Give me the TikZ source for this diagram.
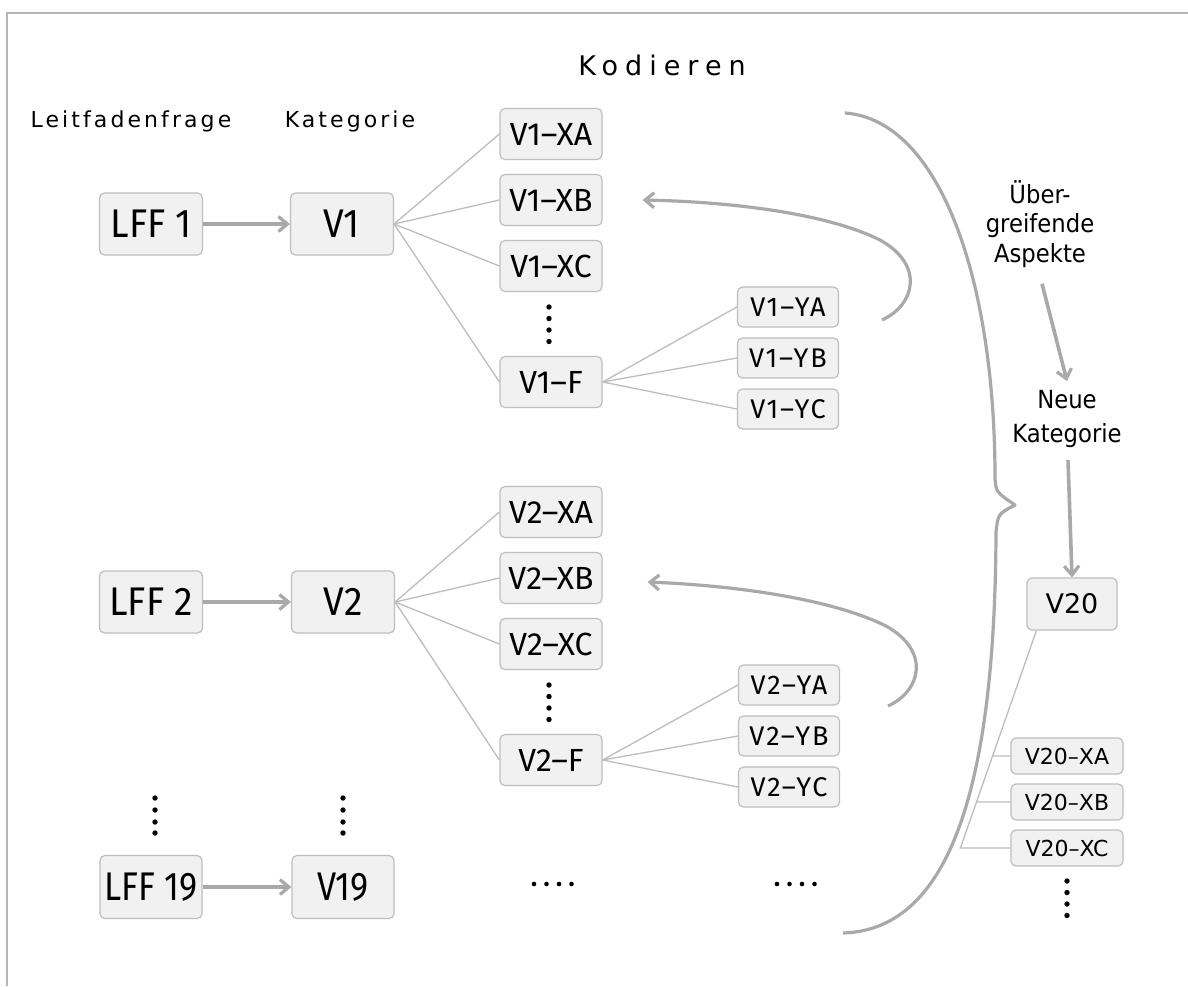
\documentclass[tikz,border=0pt]{standalone}
\usepackage{fontspec}
\setmainfont{DejaVu Sans}
\newfontfamily\boxfont[FakeStretch=0.93]{Fira Sans}
\newfontfamily\subfont{Fira Sans}
\newfontfamily\leaffont[LetterSpace=7]{Fira Sans}
\newfontfamily\narrowfont[FakeStretch=0.86]{Fira Sans}
\newfontfamily\headfont[LetterSpace=26]{DejaVu Sans}
\newfontfamily\colfont[LetterSpace=14]{DejaVu Sans}
\newfontfamily\sidefont[FakeStretch=0.91]{DejaVu Sans}
\usetikzlibrary{arrows.meta,calc}

\definecolor{boxfill}{HTML}{F1F1F1}
\definecolor{boxline}{HTML}{BEBEBE}
\definecolor{linkgray}{HTML}{BDBDBD}
\definecolor{arrowgray}{HTML}{A9A9A9}
\definecolor{framegray}{HTML}{B4B4B4}

\tikzset{
  box/.style={draw=boxline, fill=boxfill, rounded corners=5pt, line width=1.2pt, inner sep=0pt, text=black},
  bigbox/.style={box, minimum width=103pt, minimum height=62pt, font=\boxfont\fontsize{40}{42}\selectfont},
  narrowbox/.style={box, minimum width=102pt, minimum height=63pt, font=\narrowfont\fontsize{40}{42}\selectfont},
  xbox/.style={box, minimum width=102pt, minimum height=51pt, font=\subfont\fontsize{32}{34}\selectfont},
  ybox/.style={box, minimum width=101pt, minimum height=40pt, font=\leaffont\fontsize{27}{29}\selectfont},
  vbox/.style={box, minimum width=90pt, minimum height=52pt, font=\fontsize{27}{29}\selectfont},
  vxbox/.style={box, minimum width=112pt, minimum height=36pt, font=\fontsize{22}{24}\selectfont},
  collabel/.style={inner sep=0pt, text=black, font=\colfont\fontsize{22}{25}\selectfont},
  sidelabel/.style={inner sep=0pt, text=black, align=center},
  link/.style={draw=linkgray, line width=1.3pt},
  garrow/.style={draw=arrowgray, line width=3.6pt, -{Straight Barb[length=9pt,width=15pt,line width=3.2pt]}},
  curve/.style={draw=arrowgray, line width=3.2pt},
  dot/.style={circle, fill=black, inner sep=0pt, minimum size=5.4pt},
}

\begin{document}
\begin{tikzpicture}[x=1pt,y=-1pt]
\useasboundingbox (0,0) rectangle (1188,986);
\fill[white] (0,0) rectangle (1188,986);

% frame edges
\draw[framegray, line width=2pt] (7,986) -- (7,13) -- (1188,13);

% headings
\node[inner sep=0pt, font=\headfont\fontsize{27}{30}\selectfont] (kod) at (662,65) {Kodieren};
\node[collabel] (lff) at (131,121) {Leitfadenfrage};
\node[collabel] (kat) at (350,121) {Kategorie};

% first block
\node[bigbox] (lff1) at (151,224) {LFF 1};
\node[bigbox] (v1) at (342,224) {V1};
\node[xbox] (v1xa) at (551,134) {V1–XA};
\node[xbox] (v1xb) at (551,200) {V1–XB};
\node[xbox] (v1xc) at (551,266) {V1–XC};
\node[xbox] (v1f) at (551,382) {V1–F};
\node[ybox] (v1ya) at (788,307) {V1–YA};
\node[ybox] (v1yb) at (788,358) {V1–YB};
\node[ybox] (v1yc) at (788,409) {V1–YC};
\foreach \y [count=\i] in {307,318.5,330,341.5} \node[dot] (d1\i) at (549,\y) {};

\draw[garrow] (lff1) -- (v1);
\foreach \n in {v1xa,v1xb,v1xc,v1f} \draw[link] (v1.east) -- (\n.west);
\foreach \n in {v1ya,v1yb,v1yc} \draw[link] (v1f.east) -- (\n.west);

% second block
\node[bigbox] (lff2) at (151,602) {LFF 2};
\node[bigbox] (v2) at (343,602) {V2};
\node[xbox] (v2xa) at (551,512) {V2–XA};
\node[xbox] (v2xb) at (551,578) {V2–XB};
\node[xbox] (v2xc) at (551,644) {V2–XC};
\node[xbox] (v2f) at (551,760) {V2–F};
\node[ybox] (v2ya) at (789,685) {V2–YA};
\node[ybox] (v2yb) at (789,736) {V2–YB};
\node[ybox] (v2yc) at (789,787) {V2–YC};
\foreach \y [count=\i] in {685,696.5,708,719.5} \node[dot] (d2\i) at (549,\y) {};

\draw[garrow] (lff2) -- (v2);
\foreach \n in {v2xa,v2xb,v2xc,v2f} \draw[link] (v2.east) -- (\n.west);
\foreach \n in {v2ya,v2yb,v2yc} \draw[link] (v2f.east) -- (\n.west);

% last row
\foreach \y [count=\i] in {798,810,822,833} {
  \node[dot] (dl\i) at (155,\y) {};
  \node[dot] (dv\i) at (343,\y) {};
}
\node[narrowbox] (lff19) at (151,887) {LFF 19};
\node[narrowbox] (v19) at (343,887) {V19};
\draw[garrow] (lff19) -- (v19);
\foreach \x [count=\i] in {534,546.5,559,571.5} {
  \node[dot, minimum size=4.6pt] (ha\i) at (\x,884) {};
  \node[dot, minimum size=4.6pt] (hb\i) at (\x+243,884) {};
}

% returning arrows
\coordinate (r1s) at (882,320);
\coordinate (r1e) at ([xshift=40pt]v1xb.east);
\draw[garrow, line width=3.2pt] (r1s) .. controls (915,305) and (925,265) .. (880,240)
  .. controls (830,215) and (740,202) .. (r1e);
\coordinate (r2s) at (888,706);
\coordinate (r2e) at ([xshift=45pt,yshift=-4pt]v2xb.east);
\draw[garrow, line width=3.2pt] (r2s) .. controls (921,691) and (931,651) .. (886,626)
  .. controls (836,601) and (746,586) .. (r2e);

% large brace
\coordinate (bt) at (845,113);
\coordinate (bb) at (843,933);
\coordinate (bc) at (1015,505);
\draw[curve, line join=round] (bt) .. controls (940,120) and (995,280) .. (995,478)
  .. controls (996,492) .. (bc) .. controls (998,514) .. (996,532)
  .. controls (995,800) and (945,930) .. (bb);

% new category
\node[sidelabel, font=\sidefont\fontsize{25}{29.5}\selectfont] (asp) at (1040,224) {Über-\\greifende\\Aspekte};
\node[sidelabel, font=\sidefont\fontsize{25}{34}\selectfont] (neu) at (1067,419) {Neue\\Kategorie};
\node[vbox] (v20) at (1072,604) {V20};
\node[vxbox] (v20xa) at (1067,756) {V20–XA};
\node[vxbox] (v20xb) at (1067,802) {V20–XB};
\node[vxbox] (v20xc) at (1067,848) {V20–XC};
\foreach \y [count=\i] in {881,892.5,904,915.5} \node[dot] (d20\i) at (1067,\y) {};

\coordinate (aspout) at ($(asp.south)+(2,16)$);
\coordinate (neuin) at ($(neu.north)+(0,-9)$);
\coordinate (neuout) at ($(neu.south)+(1,12)$);
\draw[garrow] (aspout) -- (neuin);
\draw[garrow] (neuout) -- (v20.north);

\coordinate (s20) at ($(v20.south west)+(10,0)$);
\coordinate (c20) at ($(v20xc.west)+(-50,0)$);
\draw[link] (s20) -- (c20) -- (v20xc.west);
\draw[link] (intersection of s20--c20 and v20xa.west--v20xa.east) -- (v20xa.west);
\draw[link] (intersection of s20--c20 and v20xb.west--v20xb.east) -- (v20xb.west);
\end{tikzpicture}
\end{document}
